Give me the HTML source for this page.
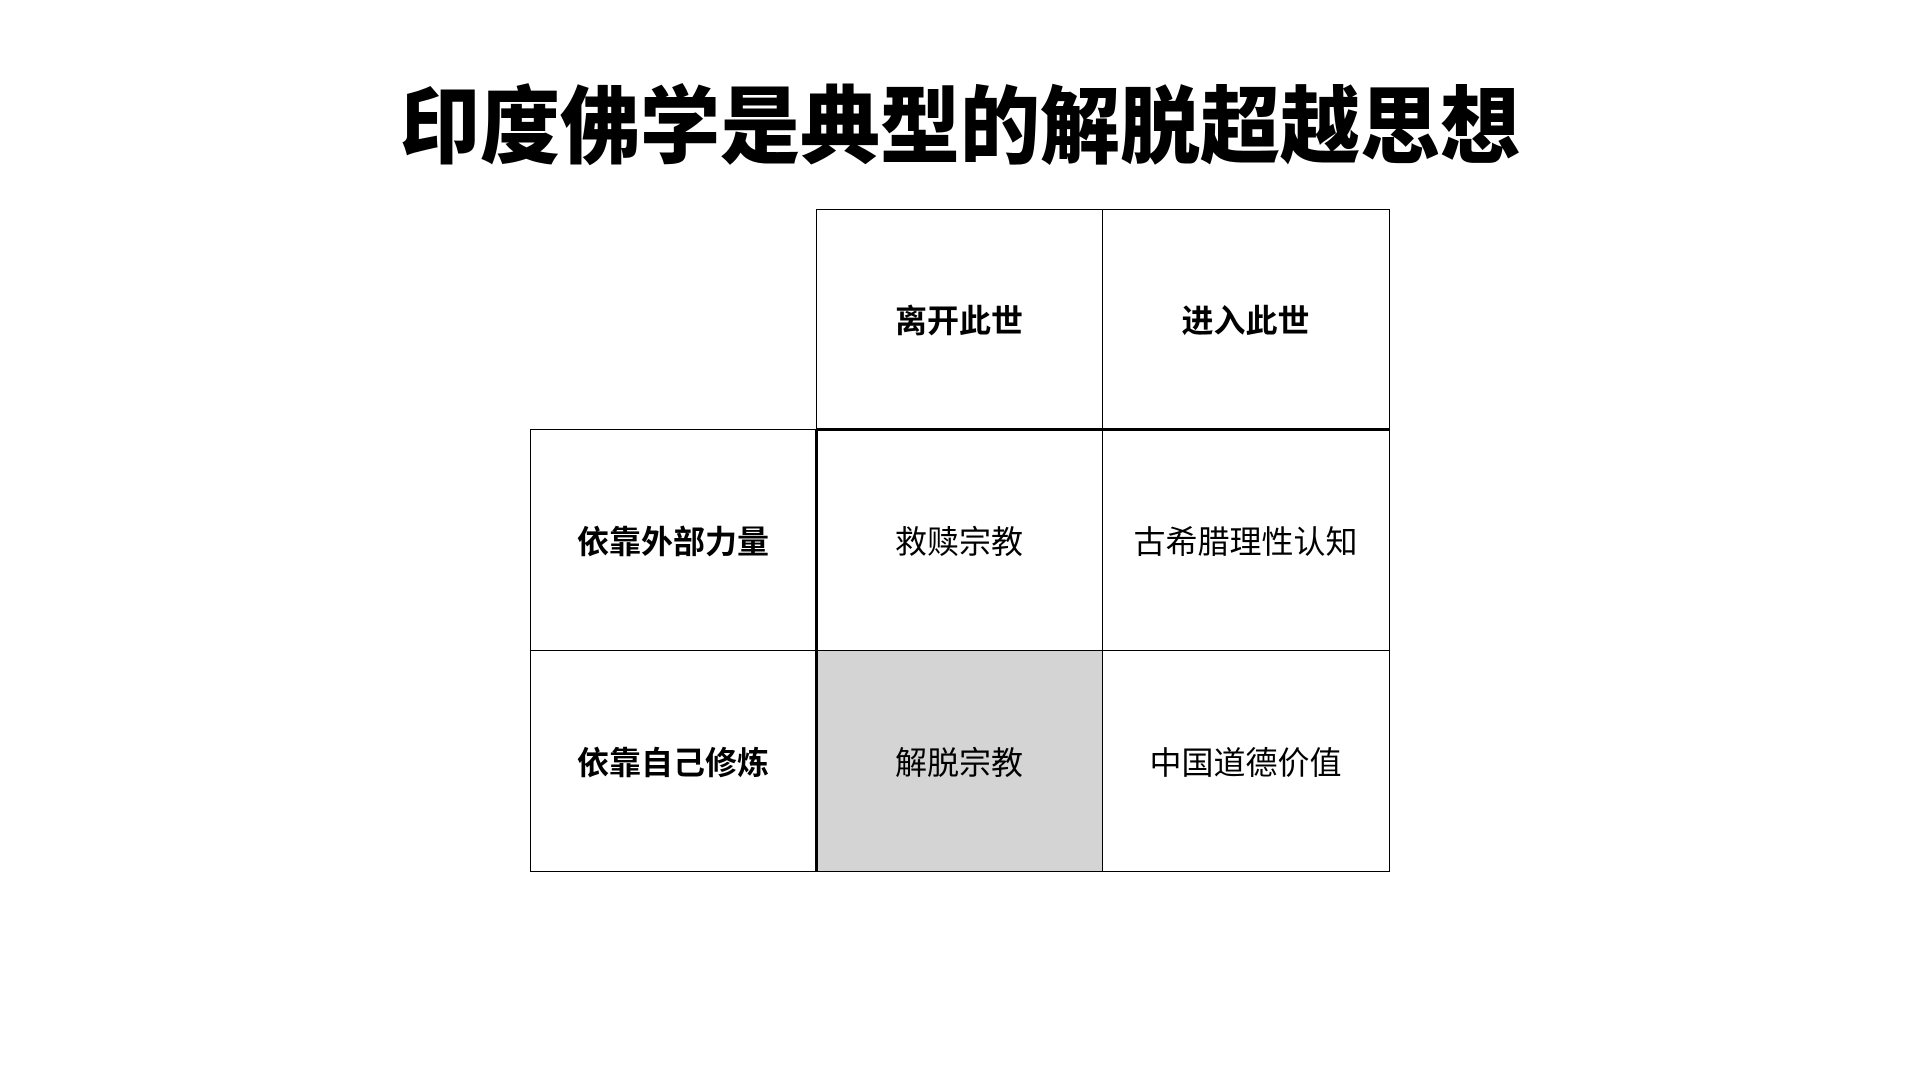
<!DOCTYPE html>
<html><head><meta charset="utf-8"><style>
body{margin:0;width:1920px;height:1080px;background:#fff;position:relative;overflow:hidden;font-family:"Liberation Sans","Noto Sans CJK SC",sans-serif;}
.t{position:absolute;left:0;width:1920px;top:82px;text-align:center;font-size:80px;font-weight:900;line-height:92px;color:#000;transform:scaleY(1.06);}
.c{position:absolute;display:flex;align-items:center;justify-content:center;font-size:32px;color:#000;box-sizing:border-box;}
.b{font-weight:bold;}
.l{position:absolute;background:#000;}
</style></head><body>
<div class="t">印度佛学是典型的解脱超越思想</div>
<div class="c" style="left:816px;top:650px;width:286px;height:221px;background:#d4d4d4"></div>
<div class="c b" style="left:816px;top:209px;width:286px;height:220px">离开此世</div>
<div class="c b" style="left:1102px;top:209px;width:287px;height:220px">进入此世</div>
<div class="c b" style="left:530px;top:429px;width:286px;height:221px">依靠外部力量</div>
<div class="c b" style="left:530px;top:650px;width:286px;height:221px">依靠自己修炼</div>
<div class="c" style="left:816px;top:429px;width:286px;height:221px">救赎宗教</div>
<div class="c" style="left:1102px;top:429px;width:287px;height:221px">古希腊理性认知</div>
<div class="c" style="left:816px;top:650px;width:286px;height:221px">解脱宗教</div>
<div class="c" style="left:1102px;top:650px;width:287px;height:221px">中国道德价值</div>
<div class="l" style="left:816px;top:209px;width:574px;height:1px"></div>
<div class="l" style="left:530px;top:429px;width:286px;height:1px"></div>
<div class="l" style="left:816px;top:428px;width:574px;height:3px"></div>
<div class="l" style="left:530px;top:650px;width:860px;height:1px"></div>
<div class="l" style="left:530px;top:871px;width:860px;height:1px"></div>
<div class="l" style="left:530px;top:429px;width:1px;height:443px"></div>
<div class="l" style="left:816px;top:209px;width:1px;height:220px"></div>
<div class="l" style="left:815px;top:429px;width:3px;height:443px"></div>
<div class="l" style="left:1102px;top:209px;width:1px;height:663px"></div>
<div class="l" style="left:1389px;top:209px;width:1px;height:663px"></div>
</body></html>
